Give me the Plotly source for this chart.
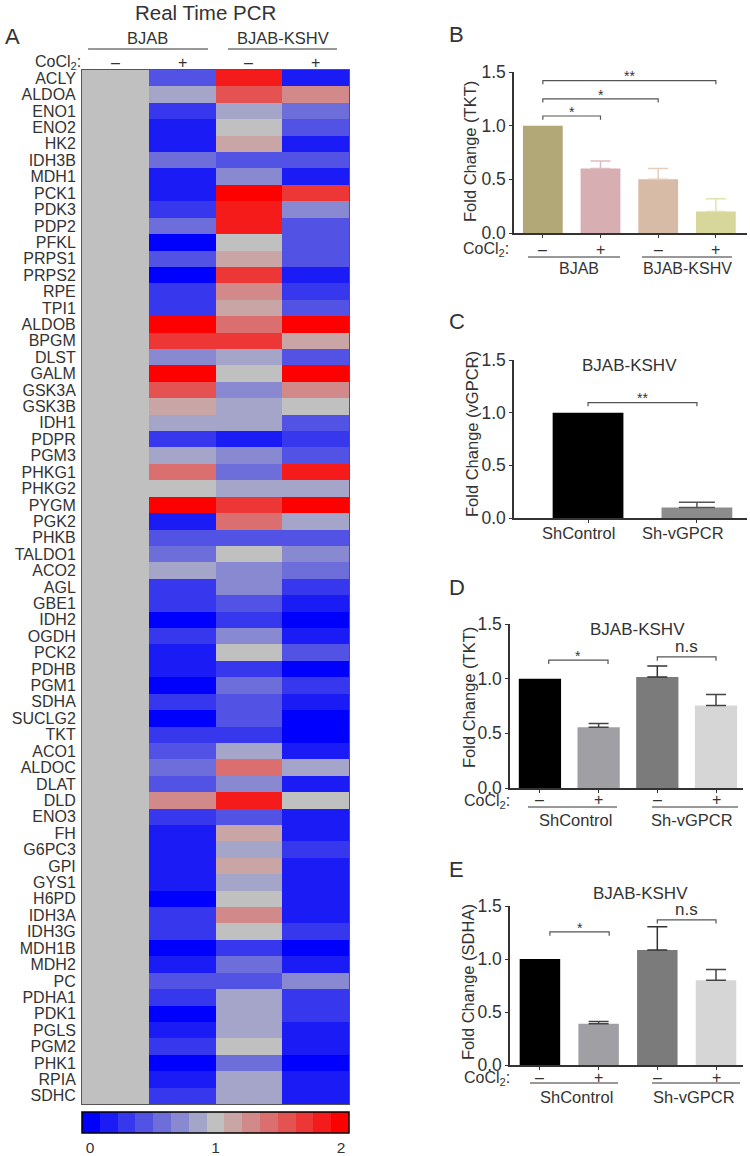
import plotly.graph_objects as go

OFF = 0
W, H = 750, 1156
FONT = "Liberation Sans, Arial, Helvetica, sans-serif"
TXT = "#333333"

# ---------------- Panel A data (heatmap, fold change) ----------------
genes = ["ACLY", "ALDOA", "ENO1", "ENO2", "HK2", "IDH3B", "MDH1", "PCK1", "PDK3", "PDP2",
         "PFKL", "PRPS1", "PRPS2", "RPE", "TPI1", "ALDOB", "BPGM", "DLST", "GALM", "GSK3A",
         "GSK3B", "IDH1", "PDPR", "PGM3", "PHKG1", "PHKG2", "PYGM", "PGK2", "PHKB", "TALDO1",
         "ACO2", "AGL", "GBE1", "IDH2", "OGDH", "PCK2", "PDHB", "PGM1", "SDHA", "SUCLG2",
         "TKT", "ACO1", "ALDOC", "DLAT", "DLD", "ENO3", "FH", "G6PC3", "GPI", "GYS1",
         "H6PD", "IDH3A", "IDH3G", "MDH1B", "MDH2", "PC", "PDHA1", "PDK1", "PGLS", "PGM2",
         "PHK1", "RPIA", "SDHC"]
bjab_minus = [1.0, 1.0, 1.0, 1.0, 1.0, 1.0, 1.0, 1.0, 1.0, 1.0,
              1.0, 1.0, 1.0, 1.0, 1.0, 1.0, 1.0, 1.0, 1.0, 1.0,
              1.0, 1.0, 1.0, 1.0, 1.0, 1.0, 1.0, 1.0, 1.0, 1.0,
              1.0, 1.0, 1.0, 1.0, 1.0, 1.0, 1.0, 1.0, 1.0, 1.0,
              1.0, 1.0, 1.0, 1.0, 1.0, 1.0, 1.0, 1.0, 1.0, 1.0,
              1.0, 1.0, 1.0, 1.0, 1.0, 1.0, 1.0, 1.0, 1.0, 1.0,
              1.0, 1.0, 1.0]
bjab_plus = [0.47, 0.87, 0.33, 0.20, 0.20, 0.60, 0.20, 0.20, 0.33, 0.60,
             0.05, 0.47, 0.05, 0.33, 0.33, 1.95, 1.67, 0.73, 1.95, 1.53,
             1.13, 0.87, 0.33, 0.87, 1.40, 1.00, 1.95, 0.20, 0.47, 0.60,
             0.87, 0.33, 0.33, 0.05, 0.33, 0.20, 0.20, 0.05, 0.33, 0.05,
             0.33, 0.47, 0.60, 0.47, 1.27, 0.33, 0.20, 0.20, 0.20, 0.20,
             0.05, 0.33, 0.33, 0.05, 0.20, 0.47, 0.33, 0.05, 0.20, 0.33,
             0.05, 0.20, 0.33]
kshv_minus = [1.80, 1.53, 0.87, 1.00, 1.13, 0.47, 0.73, 1.95, 1.80, 1.80,
              1.00, 1.13, 1.67, 1.27, 1.13, 1.40, 1.67, 0.87, 1.00, 0.73,
              0.87, 0.87, 0.20, 0.73, 0.60, 0.87, 1.67, 1.40, 0.47, 1.00,
              0.73, 0.73, 0.47, 0.33, 0.73, 1.00, 0.33, 0.60, 0.47, 0.47,
              0.33, 0.87, 1.40, 0.73, 1.80, 0.47, 1.13, 0.87, 1.13, 0.87,
              1.00, 1.27, 1.00, 0.33, 0.60, 0.47, 0.87, 0.87, 0.87, 1.00,
              0.60, 0.87, 0.87]
kshv_plus = [0.20, 1.27, 0.60, 0.47, 0.20, 0.47, 0.20, 1.67, 0.73, 0.47,
             0.47, 0.47, 0.20, 0.33, 0.47, 1.95, 1.13, 0.47, 1.95, 1.27,
             1.00, 0.47, 0.33, 0.47, 1.80, 0.87, 1.95, 0.87, 0.47, 0.73,
             0.60, 0.33, 0.20, 0.05, 0.20, 0.47, 0.05, 0.33, 0.20, 0.05,
             0.05, 0.20, 0.87, 0.20, 1.00, 0.20, 0.20, 0.33, 0.20, 0.20,
             0.20, 0.20, 0.33, 0.05, 0.20, 0.73, 0.33, 0.33, 0.20, 0.20,
             0.05, 0.20, 0.20]
heat_cols = ["–", "+", "–", "+"]
heat_groups = ["BJAB", "BJAB-KSHV"]
cbar_ticks = ["0", "1", "2"]

# ---------------- Panel B-E data ----------------
signs = ["–", "+", "–", "+"]
b_groups = ["BJAB", "BJAB-KSHV"]
b_vals = [1.0, 0.60, 0.50, 0.20]
b_err = [0.0, 0.07, 0.10, 0.12]
c_cats = ["ShControl", "Sh-vGPCR"]
c_vals = [1.0, 0.10]
c_err = [0.0, 0.05]
d_groups = ["ShControl", "Sh-vGPCR"]
d_vals = [1.0, 0.555, 1.015, 0.755]
d_err = [0.0, 0.035, 0.10, 0.10]
e_vals = [1.0, 0.39, 1.085, 0.80]
e_err = [0.0, 0.02, 0.22, 0.10]

# significance brackets: (x0, x1, level, label)
b_sig = [(0, 1, 1.09, "*"), (0, 2, 1.25, "*"), (0, 3, 1.42, "**")]
c_sig = [(0, 1, 1.095, "**")]
d_sig = [(0.15, 1.16, 1.17, "*"), (2, 3, 1.20, "n.s")]
e_sig = [(0.17, 1.18, 1.255, "*"), (2, 3, 1.37, "n.s")]


def px(x):
    return (x - OFF) / W


def py(y):
    return 1 - (y - OFF) / H


# discrete 15-step blue-gray-red colour scale
blue, gray, red = (0, 0, 255), (192, 192, 192), (255, 0, 0)
steps = []
for k in range(15):
    if k <= 7:
        t = k / 7
        c = tuple(round(blue[i] + (gray[i] - blue[i]) * t) for i in range(3))
    else:
        t = (k - 7) / 7
        c = tuple(round(gray[i] + (red[i] - gray[i]) * t) for i in range(3))
    steps.append("rgb(%d,%d,%d)" % c)
colorscale = []
for k, c in enumerate(steps):
    colorscale.append([k / 15, c])
    colorscale.append([(k + 1) / 15, c])

fig = go.Figure()

z = [[bjab_minus[i], bjab_plus[i], kshv_minus[i], kshv_plus[i]] for i in range(len(genes))]
fig.add_trace(go.Heatmap(
    z=z, x=[0, 1, 2, 3], y=genes, zmin=0, zmax=2, colorscale=colorscale,
    xaxis="x", yaxis="y", hoverinfo="skip",
    colorbar=dict(orientation="h", x=px(215.5), xanchor="center", y=py(1112), yanchor="top",
                  len=267 / W, lenmode="fraction", thickness=21, thicknessmode="pixels",
                  outlinewidth=1.5, outlinecolor="black", xpad=0, ypad=0,
                  tickvals=[0.06, 1, 1.94], ticktext=cbar_ticks, ticks="",
                  tickfont=dict(size=15.5, color=TXT, family=FONT)),
))

annotations = []
shapes = []


def ann(text, x, y, size=16, xanchor="center", yanchor="middle", xref="paper", yref="paper", angle=0):
    annotations.append(dict(text=text, x=x, y=y, xref=xref, yref=yref, showarrow=False,
                            xanchor=xanchor, yanchor=yanchor, textangle=angle,
                            font=dict(size=size, color=TXT, family=FONT)))


def hline(x0, x1, y, color=TXT, width=1):
    shapes.append(dict(type="line", xref="paper", yref="paper", x0=px(x0), x1=px(x1),
                       y0=py(y), y1=py(y), line=dict(color=color, width=width)))


# Panel A annotations
ann("Real Time PCR", px(205), py(12), size=20.5)
ann("A", px(12), py(36), size=22)
ann(heat_groups[0], px(147), py(38), size=16.5)
ann(heat_groups[1], px(283), py(38), size=16.5)
hline(88, 208, 49)
hline(228, 337, 49)
ann("CoCl<sub>2</sub>:", px(83), py(62), size=16, xanchor="right")
for i, s in enumerate(heat_cols):
    ann(s, i, py(62), size=16, xref="x")

# ---------------- bar panels ----------------
panels = [
    dict(ax=2, xd=(514, 747), yd=(233, 72), xr=(-0.5, 3.54), vals=b_vals, err=b_err,
         colors=["#b2a877", "#d7aeb1", "#d8bba6", "#d8d79b"],
         ecolors=["#b2a877", "#e0bcbe", "#e6cdb9", "#e2e1ac"], bw=0.69, cap=10,
         sig=b_sig, title="Fold Change (TKT)", tx=470, ty=152),
    dict(ax=3, xd=(514, 747), yd=(518, 360), xr=(-0.68, 1.46), vals=c_vals, err=c_err,
         colors=["#000000", "#8c8c8c"], ecolors=["#000000", "#555555"], bw=0.65, cap=18,
         sig=c_sig, title="Fold Change (vGPCR)", tx=472, ty=434),
    dict(ax=4, xd=(510, 743), yd=(788, 624), xr=(-0.51, 3.46), vals=d_vals, err=d_err,
         colors=["#000000", "#a0a0a4", "#7b7b7b", "#d6d6d6"],
         ecolors=["#000000", "#444444", "#333333", "#444444"], bw=0.72, cap=10,
         sig=d_sig, title="Fold Change (TKT)", tx=469, ty=698),
    dict(ax=5, xd=(510, 743), yd=(1065, 906), xr=(-0.51, 3.46), vals=e_vals, err=e_err,
         colors=["#000000", "#a0a0a4", "#7b7b7b", "#d6d6d6"],
         ecolors=["#000000", "#444444", "#333333", "#444444"], bw=0.69, cap=10,
         sig=e_sig, title="Fold Change (SDHA)", tx=468, ty=982),
]

layout_axes = {}
for p in panels:
    a = p["ax"]
    xa, ya = "x%d" % a, "y%d" % a
    for i, v in enumerate(p["vals"]):
        e = p["err"][i]
        fig.add_trace(go.Bar(
            x=[i], y=[v], xaxis=xa, yaxis=ya, width=p["bw"], marker=dict(color=p["colors"][i], line=dict(width=0)),
            error_y=dict(type="data", symmetric=False, array=[e], arrayminus=[0], visible=e > 0,
                         color=p["ecolors"][i], thickness=1.5, width=p["cap"]),
            showlegend=False, hoverinfo="skip"))
    ydom = (py(p["yd"][0]), py(p["yd"][1]))
    layout_axes["xaxis%d" % a] = dict(domain=[px(p["xd"][0]), px(p["xd"][1])], range=list(p["xr"]),
                                      anchor=ya, showgrid=False, zeroline=False, showline=True,
                                      linecolor="#333333", linewidth=1.5, ticks="outside", ticklen=3,
                                      tickcolor="#333333", tickwidth=1.2,
                                      tickvals=list(range(len(p["vals"]))), showticklabels=False)
    layout_axes["yaxis%d" % a] = dict(domain=list(ydom), range=[0, 1.5], anchor=xa, showgrid=False,
                                      zeroline=False, showline=True, linecolor="#333333", linewidth=1.5,
                                      ticks="outside", ticklen=3, tickcolor="#333333", tickwidth=1.2,
                                      tickvals=[0, 0.5, 1.0, 1.5], ticktext=["0.0", "0.5", "1.0", "1.5"],
                                      tickfont=dict(size=17.5, color=TXT, family=FONT))
    ann(p["title"], px(p["tx"]), py(p["ty"]), size=16.5, angle=-90)
    for (x0, x1, lev, lab) in p["sig"]:
        d = 0.035
        shapes.append(dict(type="path", xref=xa, yref=ya,
                           path="M %f,%f L %f,%f L %f,%f L %f,%f" % (x0, lev - d, x0, lev, x1, lev, x1, lev - d),
                           line=dict(color="#555555", width=1.2)))
        if lab == "n.s":
            ann(lab, (x0 + x1) / 2, lev - 0.01, size=17, xref=xa, yref=ya, yanchor="bottom")
        else:
            ann(lab, (x0 + x1) / 2, lev - 0.055, size=14, xref=xa, yref=ya, yanchor="bottom")

# Panel letters and titles
ann("B", px(457), py(35), size=22)
ann("C", px(457), py(321), size=22)
ann("D", px(457), py(587), size=22)
ann("E", px(456), py(869), size=22)
ann("BJAB-KSHV", px(629), py(365), size=17)
ann("BJAB-KSHV", px(637), py(629), size=17)
ann("BJAB-KSHV", px(640), py(893), size=17)

# Panel B under-axis labels
ann("CoCl<sub>2</sub>:", px(511), py(250), size=16, xanchor="right")
for i, s in enumerate(signs):
    ann(s, i, py(249), size=16, xref="x2")
hline(528, 620, 257)
hline(642, 732, 257)
ann(b_groups[0], px(579), py(268), size=16)
ann(b_groups[1], px(687), py(268), size=16)

# Panel C category labels
ann(c_cats[0], px(578), py(533), size=16.5)
ann(c_cats[1], px(683), py(533), size=16.5)

# Panel D under-axis labels
ann("CoCl<sub>2</sub>:", px(512), py(801), size=16, xanchor="right")
for i, s in enumerate(signs):
    ann(s, i, py(800), size=16, xref="x4")
hline(528, 617, 807)
hline(652, 738, 807)
ann(d_groups[0], px(575), py(820), size=16.5)
ann(d_groups[1], px(692), py(820), size=16.5)

# Panel E under-axis labels
ann("CoCl<sub>2</sub>:", px(512), py(1078), size=16, xanchor="right")
for i, s in enumerate(signs):
    ann(s, i, py(1077), size=16, xref="x5")
hline(530, 618, 1083)
hline(652, 740, 1083)
ann(d_groups[0], px(576), py(1097), size=16.5)
ann(d_groups[1], px(694), py(1097), size=16.5)

fig.update_layout(
    width=W, height=H, margin=dict(l=0, r=0, t=0, b=0, autoexpand=False),
    paper_bgcolor="white", plot_bgcolor="white", barmode="overlay",
    font=dict(family=FONT, color=TXT),
    xaxis=dict(domain=[px(82), px(349)], range=[-0.5, 3.5], anchor="y", showgrid=False, zeroline=False,
               showticklabels=False, ticks="", showline=True, mirror=True, linecolor="#555555", linewidth=1),
    yaxis=dict(domain=[py(1104), py(70)], autorange="reversed", anchor="x", showgrid=False, zeroline=False,
               ticks="", showline=True, mirror=True, linecolor="#555555", linewidth=1,
               tickmode="array", tickvals=genes, ticktext=genes,
               tickfont=dict(size=16, color=TXT, family=FONT), ticklabelstandoff=2),
    annotations=annotations, shapes=shapes,
    **layout_axes,
)

fig.write_html("out.html", config={"displayModeBar": False},
               post_script="document.body.style.margin='0';document.body.style.overflow='hidden';")
